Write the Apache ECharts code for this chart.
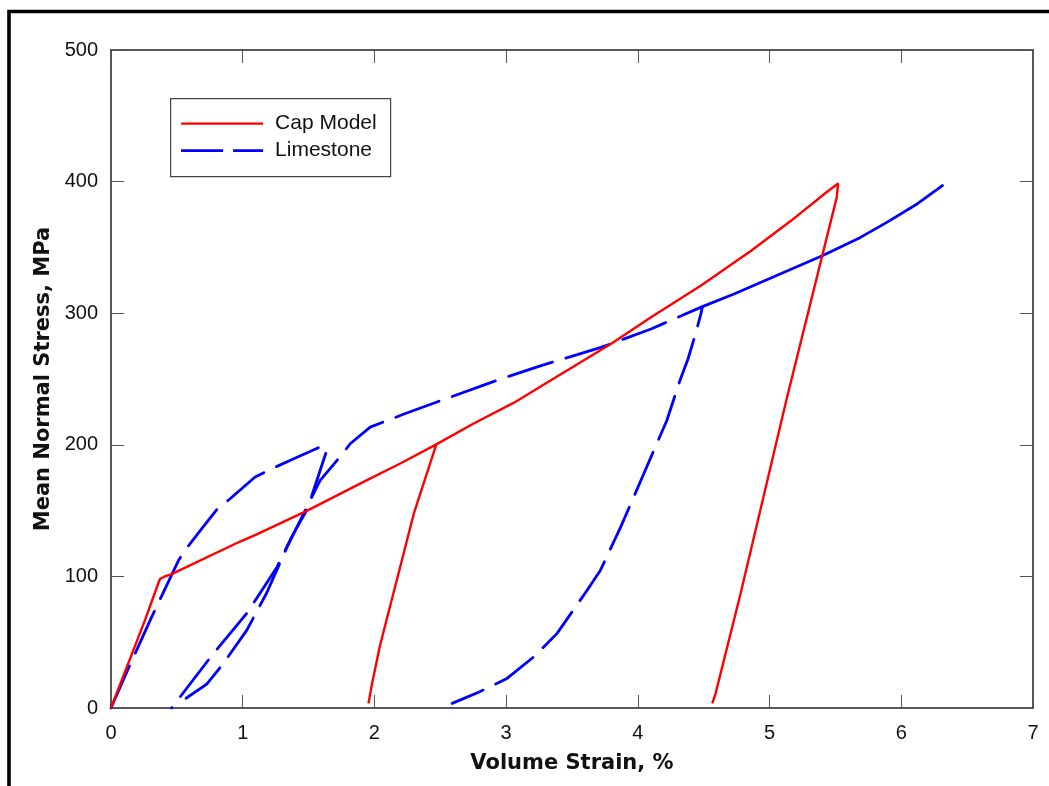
<!DOCTYPE html>
<html>
<head>
<meta charset="utf-8">
<script src="https://cdn.jsdelivr.net/npm/echarts@6/dist/echarts.min.js"></script>
<style>html,body{margin:0;padding:0;background:#fff}#c{width:1049px;height:786px}</style>
</head>
<body>
<div id="c"></div>
<script>
// ---- data ----
var xTicks = [0, 1, 2, 3, 4, 5, 6, 7];
var yTicks = [0, 100, 200, 300, 400, 500];
var seriesNames = ['Cap Model', 'Limestone'];

// Cap Model: load, unload, reload, load, unload
var capX = [0, 0.258, 0.36, 0.372, 0.40, 0.46, 0.98, 1.094, 1.49, 1.94, 2.20, 2.47,
            2.30, 2.04, 1.98, 1.955,
            1.98, 2.04, 2.30, 2.47,
            2.75, 3.06, 3.34, 3.80, 4.10, 4.48, 4.86, 5.16, 5.43, 5.52,
            5.51, 5.13, 4.78, 4.59, 4.565];
var capY = [0, 66.8, 95, 98, 99.6, 101.7, 126.5, 131.3, 150, 173, 186, 200.3,
            148, 46.5, 17.5, 3.5,
            17.5, 46.5, 148, 200.3,
            216, 232, 249, 277, 297, 321, 347.5, 370, 391.7, 398.6,
            388, 235, 87, 11, 3.5];

// Limestone: first load + unload, reload + load + second unload, final load
var limeX1 = [0, 0.132, 0.309, 0.36, 0.511, 0.562, 0.689, 0.803, 0.904, 1.094, 1.195, 1.40, 1.613, 1.634,
              1.53, 1.50, 1.385, 1.26, 1.03, 0.778, 0.46];
var limeY1 = [0, 30, 69.3, 79.9, 111.8, 119.9, 136.3, 150.7, 159, 175.5, 180.6, 190, 199.5, 194.5,
              163, 152.7, 132.5, 107, 71.8, 41.5, 0];
var limeX2 = [0.57, 0.727, 0.853, 1.03, 1.18, 1.335, 1.487, 1.588, 1.748, 1.816, 1.968,
              2.23, 2.93, 3.26, 3.72, 4.10, 4.49,
              4.48, 4.44, 4.38, 4.32, 4.22, 4.045, 3.87, 3.716, 3.615, 3.387, 3.21, 3.007, 2.80, 2.59];
var limeY2 = [7.4, 18.2, 33.8, 59, 87, 122, 152.7, 173, 192, 200.8, 213.4,
              223.6, 249, 260, 274, 288, 305,
              300, 285, 265, 249, 218.5, 178, 137.6, 104.7, 89.5, 56.7, 38.9, 22.5, 12.4, 3.5];
var limeX3 = [4.49, 4.73, 5.08, 5.40, 5.69, 5.89, 6.12, 6.32];
var limeY3 = [305, 314.6, 329.8, 343.7, 357.6, 369, 383, 397.6];

function pairs(xs, ys) { return xs.map(function (x, i) { return [x, ys[i]]; }); }

var FONT = '"Liberation Sans", Arial, sans-serif';
var TITLE_FONT = '"DejaVu Sans", sans-serif';
var RED = '#ff0000', BLUE = '#0000ff';
var dash = [46, 14];

var chart = echarts.init(document.getElementById('c'), null, {renderer: 'canvas'});

function axisLineStyle() { return {onZero: false, lineStyle: {color: '#222', width: 1.5}}; }
function tickStyle() { return {inside: true, length: 13, lineStyle: {color: '#555', width: 1}}; }

var xMin = xTicks[0], xMax = xTicks[xTicks.length - 1];
var yMin = yTicks[0], yMax = yTicks[yTicks.length - 1];

var limeStyle = {color: BLUE, width: 2.8, type: dash, cap: 'round'};

var legendText = {fontFamily: FONT, fontSize: 21, fill: '#111', verticalAlign: 'middle', align: 'left'};

var option = {
  animation: false,
  backgroundColor: '#fff',
  grid: {left: 111, right: 16, top: 50, bottom: 78},
  xAxis: [
    {
      type: 'value', min: xMin, max: xMax, interval: 1, position: 'bottom',
      axisLine: axisLineStyle(), axisTick: tickStyle(), splitLine: {show: false},
      axisLabel: {fontFamily: FONT, fontSize: 20, color: '#111', margin: 15},
      name: 'Volume Strain, %', nameLocation: 'middle', nameGap: 45,
      nameTextStyle: {fontFamily: TITLE_FONT, fontSize: 21, fontWeight: 'bold', color: '#111'}
    },
    {
      type: 'value', min: xMin, max: xMax, interval: 1, position: 'top',
      axisLine: axisLineStyle(), axisTick: tickStyle(), splitLine: {show: false},
      axisLabel: {show: false}
    }
  ],
  yAxis: [
    {
      type: 'value', min: yMin, max: yMax, interval: 100, position: 'left',
      axisLine: axisLineStyle(), axisTick: tickStyle(), splitLine: {show: false},
      axisLabel: {fontFamily: FONT, fontSize: 20, color: '#111', margin: 13},
      name: 'Mean Normal Stress, MPa', nameLocation: 'middle', nameGap: 51,
      nameTextStyle: {fontFamily: TITLE_FONT, fontSize: 21, fontWeight: 'bold', color: '#111'}
    },
    {
      type: 'value', min: yMin, max: yMax, interval: 100, position: 'right',
      axisLine: axisLineStyle(), axisTick: tickStyle(), splitLine: {show: false},
      axisLabel: {show: false}
    }
  ],
  graphic: [
    {
      type: 'polyline', silent: true, z: 100,
      shape: {points: [[9, 786], [9, 11.5], [1049, 11.5]]},
      style: {stroke: '#000', lineWidth: 3.6, fill: null}
    },
    {
      type: 'group', left: 170, top: 98, z: 50,
      children: [
        {type: 'rect', shape: {x: 0.5, y: 0.5, width: 220, height: 78},
         style: {fill: '#fff', stroke: '#444', lineWidth: 1.2}},
        {type: 'line', shape: {x1: 11, y1: 25.5, x2: 93, y2: 25.5},
         style: {stroke: RED, lineWidth: 2.4}},
        {type: 'text', x: 105, y: 25.5, style: Object.assign({text: seriesNames[0]}, legendText)},
        {type: 'line', shape: {x1: 11, y1: 52.5, x2: 93, y2: 52.5},
         style: {stroke: BLUE, lineWidth: 2.8, lineDash: [42, 10]}},
        {type: 'text', x: 105, y: 52.5, style: Object.assign({text: seriesNames[1]}, legendText)}
      ]
    }
  ],
  series: [
    {name: seriesNames[0], type: 'line', data: pairs(capX, capY), symbol: 'none',
     lineStyle: {color: RED, width: 2.4}, itemStyle: {color: RED}, z: 3},
    {name: seriesNames[1], type: 'line', data: pairs(limeX1, limeY1), symbol: 'none',
     lineStyle: limeStyle, itemStyle: {color: BLUE}, z: 2},
    {name: seriesNames[1], type: 'line', data: pairs(limeX2, limeY2), symbol: 'none',
     lineStyle: limeStyle, itemStyle: {color: BLUE}, z: 2},
    {name: seriesNames[1], type: 'line', data: pairs(limeX3, limeY3), symbol: 'none',
     lineStyle: {color: BLUE, width: 2.8, type: 'solid'}, itemStyle: {color: BLUE}, z: 2}
  ]
};
chart.setOption(option);
</script>
</body>
</html>
